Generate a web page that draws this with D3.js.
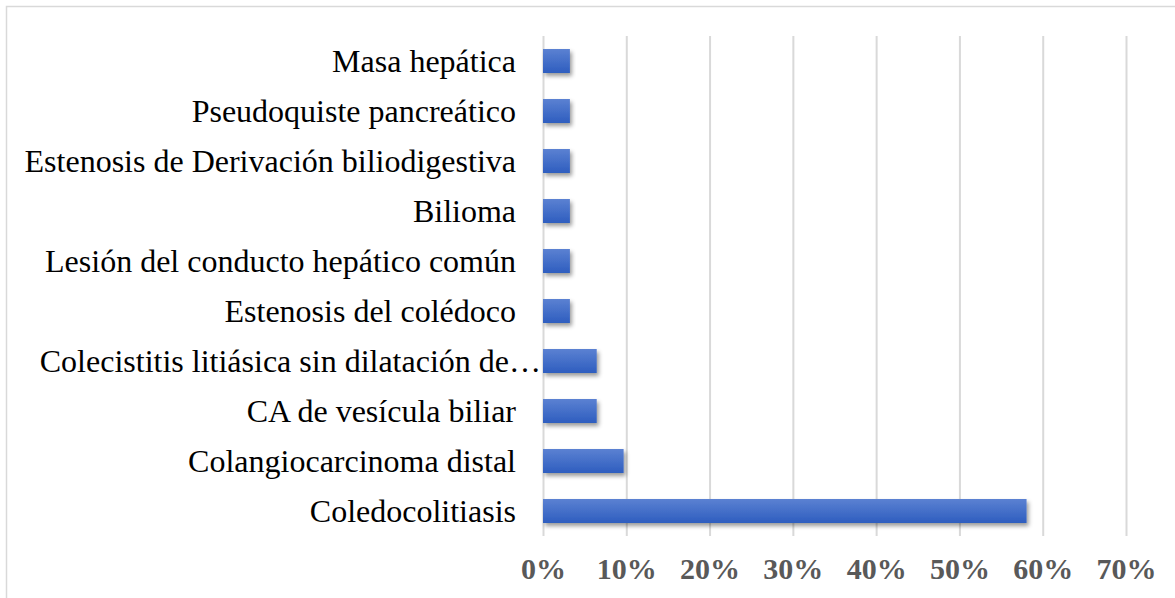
<!DOCTYPE html>
<html>
<head>
<meta charset="utf-8">
<script src="https://cdn.jsdelivr.net/npm/d3@7"></script>
<style>
  body { margin: 0; background: #fff; }
  text { font-family: 'Liberation Serif', 'Times New Roman', serif; }
</style>
</head>
<body>
<svg width="1175" height="598"></svg>
<script>
const categories = [
  'Masa hepática',
  'Pseudoquiste pancreático',
  'Estenosis de Derivación biliodigestiva',
  'Bilioma',
  'Lesión del conducto hepático común',
  'Estenosis del colédoco',
  'Colecistitis litiásica sin dilatación de…',
  'CA de vesícula biliar',
  'Colangiocarcinoma distal',
  'Coledocolitiasis'
];
const values = [0.0323, 0.0323, 0.0323, 0.0323, 0.0323, 0.0323, 0.0645, 0.0645, 0.0968, 0.5806];
const ticks = [0, 0.1, 0.2, 0.3, 0.4, 0.5, 0.6, 0.7];

const data = categories.map((c, i) => ({ category: c, value: values[i] }));

const svg = d3.select('svg');
const width = +svg.attr('width');
const height = +svg.attr('height');

const margin = { top: 36, right: 49, bottom: 62, left: 543 };
const innerHeight = 500;

// chart border (right and bottom edges fall outside the picture)
svg.append('rect')
  .attr('x', 6.5).attr('y', 6.5)
  .attr('width', width + 10).attr('height', height + 10)
  .attr('fill', 'none')
  .attr('stroke', '#d9d9d9')
  .attr('stroke-width', 1.5);

const defs = svg.append('defs');
const grad = defs.append('linearGradient')
  .attr('id', 'barGrad')
  .attr('x1', 0).attr('y1', 0).attr('x2', 0).attr('y2', 1);
grad.append('stop').attr('offset', '0%').attr('stop-color', '#5b81d2');
grad.append('stop').attr('offset', '100%').attr('stop-color', '#2e5dbf');

const shadow = defs.append('filter')
  .attr('id', 'shadow')
  .attr('x', '-10%').attr('y', '-30%')
  .attr('width', '130%').attr('height', '190%');
shadow.append('feDropShadow')
  .attr('dx', 2).attr('dy', 3)
  .attr('stdDeviation', 2)
  .attr('flood-color', '#000')
  .attr('flood-opacity', 0.4);

const xScale = d3.scaleLinear()
  .domain([0, 0.7])
  .range([0, 583]);

// step of 50px, bar height 24px
const yScale = d3.scaleBand()
  .domain(categories)
  .range([0, innerHeight])
  .paddingInner(0.52)
  .paddingOuter(0.26);

const g = svg.append('g')
  .attr('transform', `translate(${margin.left},${margin.top})`);

// vertical gridlines + tick labels
const xAxis = d3.axisBottom(xScale)
  .tickValues(ticks)
  .tickFormat(d3.format('.0%'))
  .tickSize(-innerHeight)
  .tickPadding(22);

const xAxisG = g.append('g')
  .attr('transform', `translate(0,${innerHeight})`)
  .call(xAxis);

xAxisG.select('.domain').remove();
xAxisG.selectAll('.tick line')
  .attr('stroke', '#d9d9d9')
  .attr('stroke-width', 2);
xAxisG.selectAll('.tick text')
  .attr('fill', '#595959')
  .attr('font-size', 30)
  .attr('font-weight', 'bold')
  .attr('font-family', "'Liberation Serif', 'Times New Roman', serif");

g.selectAll('rect.bar').data(data)
  .enter().append('rect')
    .attr('class', 'bar')
    .attr('x', 0)
    .attr('y', d => yScale(d.category))
    .attr('width', d => xScale(d.value))
    .attr('height', yScale.bandwidth())
    .attr('fill', 'url(#barGrad)')
    .attr('filter', 'url(#shadow)');

// category labels (the truncated one runs up to the axis)
g.selectAll('text.cat').data(data)
  .enter().append('text')
    .attr('class', 'cat')
    .attr('x', d => d.category.endsWith('…') ? -2 : -27)
    .attr('y', d => yScale(d.category) + yScale.bandwidth() / 2)
    .attr('dy', '0.35em')
    .attr('text-anchor', 'end')
    .attr('font-size', 32)
    .attr('fill', '#000')
    .text(d => d.category);
</script>
</body>
</html>
